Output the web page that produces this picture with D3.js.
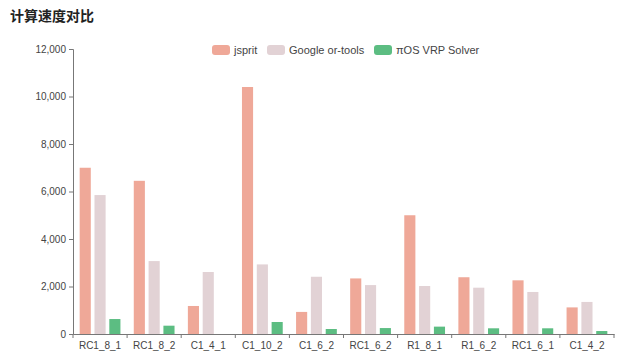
<!DOCTYPE html>
<html>
<head>
<meta charset="utf-8">
<script src="https://cdn.jsdelivr.net/npm/d3@7"></script>
<style>
  body { margin: 0; background: #fff; }
  svg { display: block; font-family: "Helvetica Neue", "Liberation Sans", "Noto Sans", sans-serif; }
</style>
</head>
<body>
<script>
const categories = ["RC1_8_1", "RC1_8_2", "C1_4_1", "C1_10_2", "C1_6_2", "RC1_6_2", "R1_8_1", "R1_6_2", "RC1_6_1", "C1_4_2"];
const seriesNames = ["jsprit", "Google or-tools", "πOS VRP Solver"];
const jspritValues = [7000, 6450, 1180, 10400, 930, 2340, 5000, 2390, 2260, 1120];
const orToolsValues = [5850, 3070, 2610, 2930, 2410, 2060, 2020, 1950, 1770, 1350];
const piosValues = [630, 350, 0, 505, 210, 250, 310, 240, 240, 125];
const yTicks = [0, 2000, 4000, 6000, 8000, 10000, 12000];
const colors = ["#efa898", "#e2d2d5", "#5cbd82"];

const width = 635, height = 364;
const margin = { top: 49, right: 21, bottom: 30, left: 73 };

const series = [jspritValues, orToolsValues, piosValues];
const table = categories.map((c, i) => ({ cat: c, values: series.map(s => s[i]) }));

const svg = d3.select("body").append("svg")
    .attr("width", width)
    .attr("height", height);

// title
svg.append("text")
    .attr("x", 10)
    .attr("y", 21)
    .attr("font-size", 14)
    .attr("font-weight", "bold")
    .attr("fill", "#222")
    .style("font-family", "'Noto Sans CJK SC', sans-serif")
    .text("计算速度对比");

const x = d3.scaleBand()
    .domain(categories)
    .range([margin.left, width - margin.right])
    .paddingInner(0)
    .paddingOuter(0);

const x1 = d3.scaleBand()
    .domain(seriesNames)
    .range([0, x.bandwidth()])
    .paddingInner(0.25)
    .paddingOuter(0.45);

const y = d3.scaleLinear()
    .domain([0, 12000])
    .range([height - margin.bottom, margin.top]);

// bars
const groups = svg.append("g")
    .selectAll("g")
    .data(table)
    .join("g")
    .attr("transform", d => `translate(${x(d.cat)},0)`);

groups.selectAll("rect")
    .data(d => d.values.map((v, k) => ({ name: seriesNames[k], v, k })))
    .join("rect")
    .attr("x", d => x1(d.name))
    .attr("width", x1.bandwidth())
    .attr("y", d => y(d.v))
    .attr("height", d => y(0) - y(d.v))
    .attr("fill", d => colors[d.k]);

// axes
const yAxis = svg.append("g")
    .attr("transform", `translate(${margin.left},0)`)
    .call(d3.axisLeft(y).tickValues(yTicks).tickFormat(d3.format(",")).tickSize(4).tickPadding(3));

const xAxis = svg.append("g")
    .attr("transform", `translate(0,${y(0)})`)
    .call(d3.axisBottom(x).tickSize(0).tickPadding(8));

// boundary ticks on x axis
xAxis.selectAll(".bound")
    .data(categories.concat(["end"]))
    .join("line")
    .attr("class", "bound")
    .attr("x1", (d, i) => margin.left + i * x.step())
    .attr("x2", (d, i) => margin.left + i * x.step())
    .attr("y1", 0)
    .attr("y2", 4)
    .attr("stroke", "#777");

[yAxis, xAxis].forEach(a => {
    a.select(".domain").attr("stroke", "#777");
    a.selectAll(".tick line").attr("stroke", "#777");
    a.selectAll("text").attr("fill", "#444").attr("font-size", 10);
});

// legend
const legendX = [212, 267, 374];
const legend = svg.append("g")
    .selectAll("g")
    .data(seriesNames)
    .join("g")
    .attr("transform", (d, i) => `translate(${legendX[i]},45)`);

legend.append("rect")
    .attr("width", 18)
    .attr("height", 10)
    .attr("rx", 3)
    .attr("fill", (d, i) => colors[i]);

legend.append("text")
    .attr("x", 22)
    .attr("y", 9)
    .attr("font-size", 11)
    .attr("fill", "#444")
    .text(d => d);
</script>
</body>
</html>
